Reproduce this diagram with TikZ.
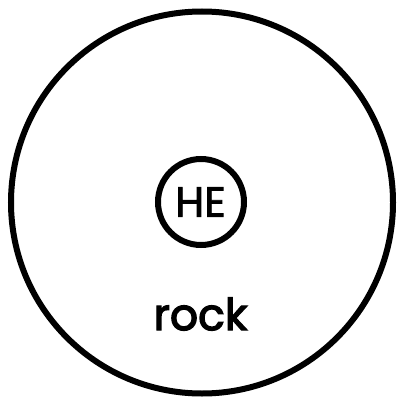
\documentclass[tikz,border=0pt]{standalone}
\usepackage{fontspec}
\setsansfont{Poppins}
\usetikzlibrary{positioning}

\begin{document}
\begin{tikzpicture}[x=1pt, y=-1pt, line width=6pt,
    every node/.style={font=\sffamily}]

        % Frame of the picture
        \useasboundingbox (0, 0) rectangle (396, 398);

        % Outer body
        \node[circle, draw, inner sep=0pt, minimum size=382pt] (body) at (202, 202.5) {};

        % Core
        \node[circle, draw, inner sep=0pt, minimum size=86pt] (core) at (201, 202) {};
        \node[font=\sffamily\fontsize{42}{42}\selectfont\addfontfeature{FakeBold=2}] (he) at (200.5, 202) {HE};

        % Label of the body
        \node[font=\sffamily\fontsize{44}{44}\selectfont\addfontfeature{FakeBold=3}] (rock) at (200.5, 314) {rock};

      \end{tikzpicture}
\end{document}
